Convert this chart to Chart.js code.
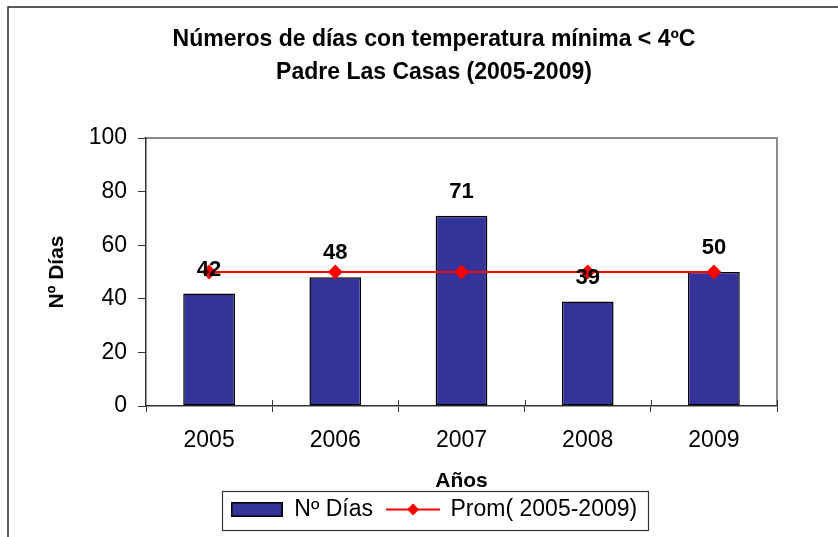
<!DOCTYPE html>
<html lang="es">
<head>
<meta charset="utf-8">
<title>Números de días con temperatura mínima &lt; 4ºC</title>
<script src="https://cdn.jsdelivr.net/npm/chart.js@4.4.1/dist/chart.umd.min.js"></script>
<style>
  html, body { margin: 0; padding: 0; background: #fff; }
  #wrap { width: 838px; height: 537px; }
</style>
</head>
<body>
<div id="wrap"><canvas id="chart" width="838" height="537"></canvas></div>
<script>
(() => {
  'use strict';

  // data
  const years = ['2005', '2006', '2007', '2008', '2009'];
  const diasValues = [42, 48, 71, 39, 50];
  const promValues = [50, 50, 50, 50, 50];
  const yTicks = [0, 20, 40, 60, 80, 100];
  const seriesNames = ['Nº Días', 'Prom( 2005-2009)'];
  const titleLines = ['Números de días con temperatura mínima < 4ºC', 'Padre Las Casas (2005-2009)'];
  const xTitle = 'Años';
  const yTitle = 'Nº Días';

  const FONT = "'Liberation Sans', Arial, sans-serif";
  const BAR_COLOR = '#333399';
  const LINE_COLOR = '#ff0000';
  const AXIS_COLOR = '#333333';

  const el = document.getElementById('chart');
  if (!el || !window.Chart) return;

  function makeSwatch(w, h, draw) {
    const c = document.createElement('canvas');
    c.width = w;
    c.height = h;
    draw(c.getContext('2d'), w, h);
    return c;
  }

  const barSwatch = makeSwatch(52, 15, (g, w, h) => {
    g.fillStyle = BAR_COLOR;
    g.fillRect(1, 1, w - 2, h - 2);
    g.strokeStyle = '#000';
    g.lineWidth = 1.5;
    g.strokeRect(0.75, 0.75, w - 1.5, h - 1.5);
  });

  const lineSwatch = makeSwatch(54, 15, (g, w, h) => {
    const cy = h / 2;
    g.strokeStyle = LINE_COLOR;
    g.lineWidth = 2;
    g.beginPath();
    g.moveTo(0, cy);
    g.lineTo(w, cy);
    g.stroke();
    g.fillStyle = LINE_COLOR;
    g.beginPath();
    g.moveTo(w / 2, cy - 6);
    g.lineTo(w / 2 + 6, cy);
    g.lineTo(w / 2, cy + 6);
    g.lineTo(w / 2 - 6, cy);
    g.closePath();
    g.fill();
  });

  // outer frame, plot border, the upper half of the x ticks and the legend box
  const framePlugin = {
    id: 'frame',
    beforeDraw(chart) {
      const { ctx, chartArea: a } = chart;
      ctx.save();
      ctx.strokeStyle = '#262626';
      ctx.lineWidth = 1.5;
      ctx.strokeRect(8, 7, chart.width + 20, chart.height + 20);
      ctx.strokeStyle = '#8c8c8c';
      ctx.lineWidth = 2;
      ctx.beginPath();
      ctx.moveTo(a.left, a.top);
      ctx.lineTo(a.right, a.top);
      ctx.lineTo(a.right, a.bottom);
      ctx.stroke();
      ctx.restore();
    },
    afterDraw(chart) {
      const { ctx } = chart;
      const xs = chart.scales.x;
      const step = (xs.right - xs.left) / years.length;
      ctx.save();
      ctx.strokeStyle = AXIS_COLOR;
      ctx.lineWidth = 1;
      ctx.beginPath();
      for (let i = 1; i <= years.length; i++) {
        const px = Math.round(xs.left + i * step) + 0.5;
        ctx.moveTo(px, xs.top - 6);
        ctx.lineTo(px, xs.top);
      }
      ctx.stroke();

      const hb = chart.legend && chart.legend.legendHitBoxes;
      if (hb && hb.length) {
        const left = Math.min(...hb.map(b => b.left)) - 9;
        const right = Math.max(...hb.map(b => b.left + b.width)) + 11;
        const top = hb[0].top - 7;
        const bottom = hb[0].top + hb[0].height + 9;
        ctx.strokeStyle = '#333';
        ctx.lineWidth = 1.2;
        ctx.strokeRect(Math.round(left) + 0.5, Math.round(top) + 0.5, Math.round(right - left), Math.round(bottom - top));
      }
      ctx.restore();
    }
  };

  // value labels above the bars (bar dataset is index 1)
  const valueLabelPlugin = {
    id: 'valueLabels',
    afterDatasetsDraw(chart) {
      const meta = chart.getDatasetMeta(1);
      const { ctx } = chart;
      ctx.save();
      ctx.font = `bold 22px ${FONT}`;
      ctx.fillStyle = '#000';
      ctx.textAlign = 'center';
      ctx.textBaseline = 'middle';
      meta.data.forEach((bar, i) => {
        ctx.fillText(String(diasValues[i]), bar.x, bar.y - 24);
      });
      ctx.restore();
    }
  };

  new Chart(el.getContext('2d'), {
    data: {
      labels: years,
      datasets: [
        {
          type: 'line',
          label: seriesNames[1],
          data: promValues,
          borderColor: LINE_COLOR,
          backgroundColor: LINE_COLOR,
          borderWidth: 2,
          pointStyle: 'rectRot',
          pointRadius: 6,
          pointBackgroundColor: LINE_COLOR,
          pointBorderColor: LINE_COLOR,
          tension: 0,
          order: 1
        },
        {
          type: 'bar',
          label: seriesNames[0],
          data: diasValues,
          backgroundColor: BAR_COLOR,
          borderColor: '#000',
          borderWidth: 1.5,
          borderSkipped: false,
          categoryPercentage: 1,
          barPercentage: 0.41,
          order: 2
        }
      ]
    },
    options: {
      responsive: false,
      animation: false,
      devicePixelRatio: 1,
      layout: { padding: { left: 30, right: 0, top: 0, bottom: 6 } },
      scales: {
        x: {
          type: 'category',
          offset: true,
          grid: { offset: true, drawOnChartArea: false, tickLength: 6, color: AXIS_COLOR },
          border: { color: AXIS_COLOR, width: 1.5 },
          ticks: { color: '#000', padding: 15, font: { family: FONT, size: 23 } },
          title: {
            display: true,
            text: xTitle,
            color: '#000',
            padding: { top: 0, bottom: -10 },
            font: { family: FONT, size: 21, weight: 'bold' }
          },
          afterFit: s => { s.height = 78; }
        },
        y: {
          type: 'linear',
          position: 'left',
          min: 0,
          max: 100,
          grid: { drawOnChartArea: false, tickLength: 8, color: AXIS_COLOR },
          border: { color: AXIS_COLOR, width: 1.5 },
          ticks: { color: '#000', padding: 11, font: { family: FONT, size: 23 } },
          afterBuildTicks: s => { s.ticks = yTicks.map(v => ({ value: v })); },
          title: {
            display: true,
            text: yTitle,
            color: '#000',
            padding: { top: 15, bottom: 0 },
            font: { family: FONT, size: 21, weight: 'bold' }
          },
          afterFit: s => { s.width = 116; }
        },
        pad: {
          type: 'linear',
          position: 'right',
          display: true,
          grid: { display: false },
          border: { display: false },
          ticks: { display: false },
          afterFit: s => { s.width = 61; }
        }
      },
      plugins: {
        title: {
          display: true,
          text: titleLines,
          color: '#000',
          padding: { top: 23.5, bottom: 48.5 },
          font: { family: FONT, size: 23, weight: 'bold', lineHeight: 1.435 }
        },
        legend: {
          display: true,
          position: 'bottom',
          labels: {
            usePointStyle: true,
            pointStyleWidth: 52,
            padding: 14,
            color: '#000',
            font: { family: FONT, size: 23 },
            generateLabels: () => [
              { text: seriesNames[0], pointStyle: barSwatch, datasetIndex: 1, hidden: false, lineWidth: 0, fillStyle: 'transparent', strokeStyle: 'transparent', fontColor: '#000' },
              { text: seriesNames[1], pointStyle: lineSwatch, datasetIndex: 0, hidden: false, lineWidth: 0, fillStyle: 'transparent', strokeStyle: 'transparent', fontColor: '#000' }
            ]
          }
        },
        tooltip: { enabled: false }
      }
    },
    plugins: [framePlugin, valueLabelPlugin]
  });
})();
</script>
</body>
</html>
